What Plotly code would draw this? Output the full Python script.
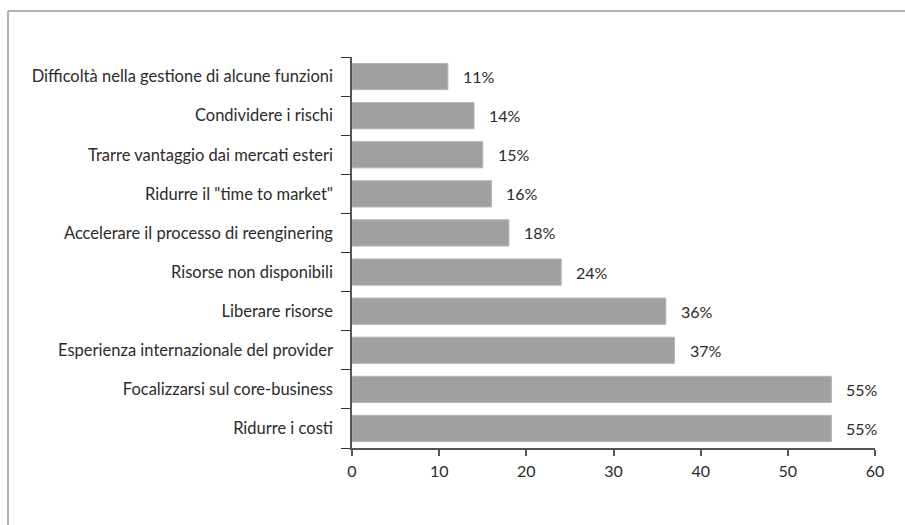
import plotly.graph_objects as go

# Motivazioni per l'outsourcing (% di risposte)
categories = [
    "Ridurre i costi",
    "Focalizzarsi sul core-business",
    "Esperienza internazionale del provider",
    "Liberare risorse",
    "Risorse non disponibili",
    "Accelerare il processo di reenginering",
    "Ridurre il \"time to market\"",
    "Trarre vantaggio dai mercati esteri",
    "Condividere i rischi",
    "Difficoltà nella gestione di alcune funzioni",
]
values = [55, 55, 37, 36, 24, 18, 16, 15, 14, 11]
x_ticks = [0, 10, 20, 30, 40, 50, 60]

W, H = 905, 525
ML, MR, MT, MB = 352, 30, 57, 77
FONT = "Lato, sans-serif"
TEXT = "#2b2b2b"
AXIS = "#555555"

fig = go.Figure(
    go.Bar(
        y=categories,
        x=values,
        orientation="h",
        marker=dict(color="#a0a0a0", line=dict(color="#b4b4b4", width=1)),
        hoverinfo="skip",
    )
)

# value labels to the right of each bar
for cat, v in zip(categories, values):
    fig.add_annotation(
        x=v, y=cat, text=f"{v}%", showarrow=False,
        xanchor="left", xshift=13,
        font=dict(family=FONT, size=16, color=TEXT),
    )

# outer frame (top and left edges)
pw = W - ML - MR
ph = H - MT - MB
px0 = (8 - ML) / pw
py_top = (H - MB - 11) / ph
py_bot = (H - MB - H - 5) / ph
fig.add_shape(type="line", xref="paper", yref="paper",
              x0=px0, x1=(W + 5 - ML) / pw, y0=py_top, y1=py_top,
              line=dict(color="#9a9a9a", width=1.5))
fig.add_shape(type="line", xref="paper", yref="paper",
              x0=px0, x1=px0, y0=py_top, y1=py_bot,
              line=dict(color="#9a9a9a", width=1.5))

fig.update_layout(
    width=W, height=H,
    margin=dict(l=ML, r=MR, t=MT, b=MB),
    paper_bgcolor="white", plot_bgcolor="white",
    bargap=0.33,
    showlegend=False,
    font=dict(family=FONT, size=16, color=TEXT),
    xaxis=dict(
        range=[0, 60], tickvals=x_ticks, showgrid=False, zeroline=False,
        showline=True, linecolor=AXIS, linewidth=1.5,
        ticks="outside", ticklen=6, tickcolor=AXIS, tickwidth=1.5,
        tickfont=dict(family=FONT, size=16, color=TEXT),
        ticklabelstandoff=2,
    ),
    yaxis=dict(
        categoryorder="array", categoryarray=categories,
        showgrid=False, zeroline=False,
        showline=True, linecolor=AXIS, linewidth=1.5,
        ticks="outside", ticklen=9, tickcolor="#333333", tickwidth=1.2,
        tickson="boundaries",
        tickfont=dict(family=FONT, size=16.5, color=TEXT),
        ticklabelstandoff=14,
    ),
)

fig.write_html("out.html")
